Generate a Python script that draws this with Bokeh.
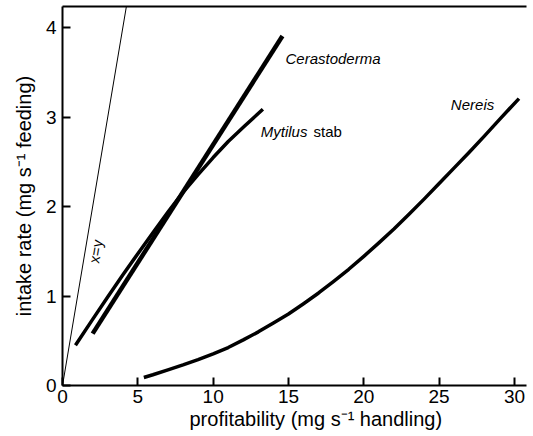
from bokeh.plotting import figure
from bokeh.models import LinearAxis, FixedTicker, Range1d, Title
from bokeh.core.properties import value
from bokeh.embed import file_html
from bokeh.resources import INLINE

# tick positions
x_ticks = [0, 5, 10, 15, 20, 25, 30]
y_ticks = [0, 1, 2, 3, 4]

# reference line x = y
identity_x = [0, 4.6]
identity_y = [0, 4.6]

# intake rate vs profitability for each prey
cerastoderma_x = [2.0, 14.6]
cerastoderma_y = [0.58, 3.91]

mytilus_x = [0.86, 2, 3, 4, 5, 6, 7, 8, 9, 10, 11, 12, 13.3]
mytilus_y = [0.45, 0.74, 0.99, 1.235, 1.475, 1.71, 1.94, 2.16, 2.36, 2.55, 2.73, 2.89, 3.09]

nereis_x = [5.4, 6, 7, 8, 9, 10, 11, 12, 13, 14, 15, 16, 17, 18, 19, 20,
            21, 22, 23, 24, 25, 26, 27, 28, 29, 30.3]
nereis_y = [0.09, 0.12, 0.175, 0.23, 0.29, 0.355, 0.425, 0.51, 0.60, 0.70, 0.80,
            0.915, 1.035, 1.165, 1.30, 1.445, 1.595, 1.75, 1.915, 2.085, 2.26,
            2.435, 2.61, 2.79, 2.975, 3.21]

FONT = "Liberation Sans"
X_MAX, Y_MAX = 30.8, 4.24

p = figure(width=533, height=436, output_backend="svg", toolbar_location=None,
           x_range=Range1d(0, X_MAX), y_range=Range1d(0, Y_MAX),
           y_axis_label="intake rate (mg s\u207b\u00b9 feeding)",
           min_border_left=62, min_border_right=7, min_border_top=6, min_border_bottom=51)

p.outline_line_color = None
p.xgrid.visible = False
p.ygrid.visible = False
p.background_fill_color = "white"
p.border_fill_color = "white"

for ax, ticks in ((p.xaxis[0], x_ticks), (p.yaxis[0], y_ticks)):
    ax.ticker = FixedTicker(ticks=ticks)
    ax.axis_line_width = 2
    ax.axis_line_color = "black"
    ax.major_tick_in = 8
    ax.major_tick_out = 0
    ax.major_tick_line_color = "black"
    ax.major_tick_line_width = 2
    ax.minor_tick_line_color = None
    ax.major_label_text_font = FONT
    ax.major_label_text_font_size = "19px"
    ax.major_label_text_color = "black"
    ax.axis_label_text_font = FONT
    ax.axis_label_text_font_size = "20px"
    ax.axis_label_text_font_style = "normal"
    ax.axis_label_text_color = "black"

p.xaxis[0].major_label_standoff = 4
p.yaxis[0].major_label_standoff = 6
p.yaxis[0].axis_label_standoff = 8

# x-axis title, set a little right of the frame centre
p.add_layout(Title(text="profitability (mg s\u207b\u00b9 handling)", align="left", offset=127,
                   text_font=FONT, text_font_size="20px", text_font_style="normal",
                   text_color="black", standoff=0), "below")

# top frame edge
top = LinearAxis(ticker=FixedTicker(ticks=[]), axis_line_width=2, axis_line_color="black",
                 major_label_text_font_size="0px", major_tick_line_color=None,
                 minor_tick_line_color=None)
p.add_layout(top, "above")

p.line(identity_x, identity_y, line_color="black", line_width=1)
p.line(cerastoderma_x, cerastoderma_y, line_color="black", line_width=4.5, line_cap="butt")
p.line(mytilus_x, mytilus_y, line_color="black", line_width=3.5, line_cap="butt",
       line_join="round")
p.line(nereis_x, nereis_y, line_color="black", line_width=3.5, line_cap="butt",
       line_join="round")

italic = dict(text_font=value(FONT), text_font_style="italic", text_font_size="15px",
              text_color="black", text_baseline="middle", text_align="left")
p.text(x=[14.8], y=[3.66], text=["Cerastoderma"], **italic)
p.text(x=[13.16], y=[2.84], text=["Mytilus"], **italic)
p.text(x=[25.78], y=[3.14], text=["Nereis"], **italic)
p.text(x=[16.66], y=[2.84], text=["stab"], text_font=value(FONT), text_font_size="15px",
       text_color="black", text_baseline="middle", text_align="left")
p.text(x=[2.19], y=[1.50], text=["x=y"], angle=1.40, text_font=value(FONT),
       text_font_size="15px", text_color="black", text_baseline="middle", text_align="center")

open("out.html", "w").write(file_html(p, INLINE))
